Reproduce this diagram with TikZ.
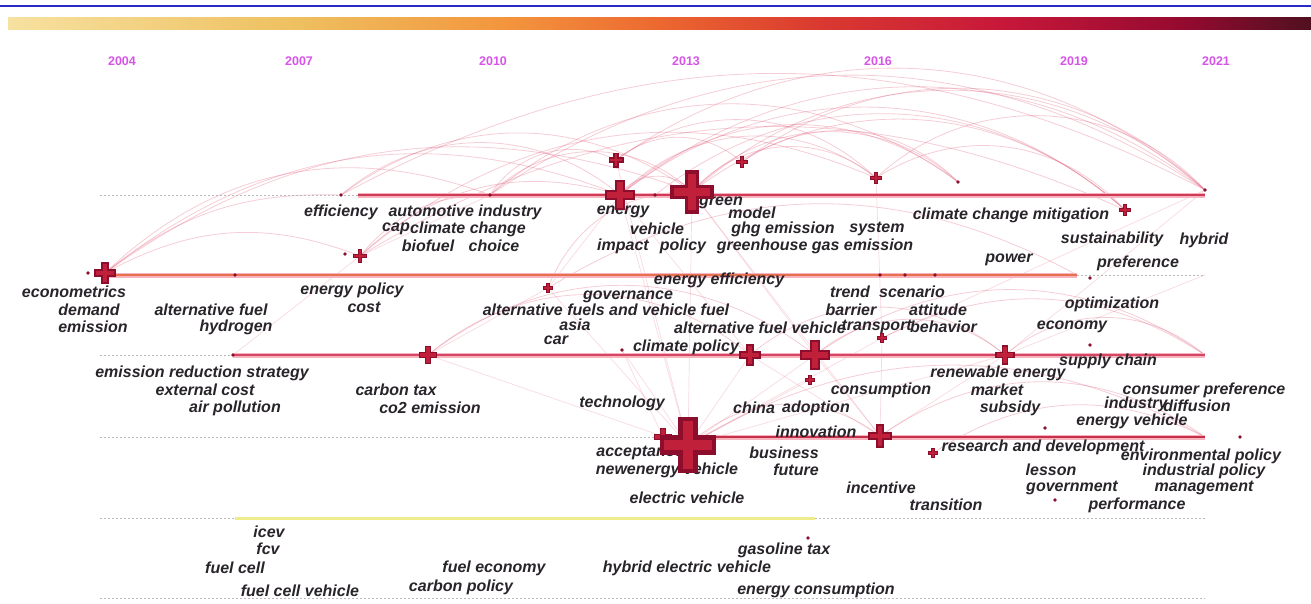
\documentclass[tikz,border=0pt]{standalone}
\usepackage{fontspec}
\setmainfont{Liberation Sans}
\usetikzlibrary{calc}
\definecolor{bluerule}{RGB}{40,40,200}
\definecolor{yb0}{RGB}{247,225,160}
\definecolor{yb1}{RGB}{238,192,96}
\definecolor{yb2}{RGB}{243,150,62}
\definecolor{yb3}{RGB}{236,104,48}
\definecolor{yb4}{RGB}{218,58,48}
\definecolor{yb5}{RGB}{200,24,58}
\definecolor{yb6}{RGB}{150,10,48}
\definecolor{yb7}{RGB}{80,16,32}
\definecolor{yearcol}{RGB}{214,84,232}
\definecolor{kwtext}{RGB}{40,36,42}
\definecolor{crossfill}{RGB}{140,14,44}
\definecolor{crosscore}{RGB}{192,32,58}
\definecolor{rowA}{RGB}{208,58,88}
\definecolor{rowB}{RGB}{232,112,78}
\definecolor{rowC}{RGB}{214,70,100}
\definecolor{rowD}{RGB}{200,48,74}
\definecolor{rowE}{RGB}{238,236,140}
\definecolor{band}{RGB}{246,180,190}
\definecolor{arccol}{RGB}{225,90,120}
\pgfdeclarehorizontalshading{yearbar}{100bp}{color(0bp)=(yb0); color(25bp)=(yb0); color(36bp)=(yb1); color(44bp)=(yb2); color(50bp)=(yb3); color(56bp)=(yb4); color(63bp)=(yb5); color(70bp)=(yb6); color(75bp)=(yb7); color(100bp)=(yb7)}
\newcommand\kwx[4]{%
  \coordinate (#1) at (#2,#3);
  \fill[crossfill] ($(#1)+(-0.17*#4,-0.5*#4)$) rectangle ($(#1)+(0.17*#4,0.5*#4)$);
  \fill[crossfill] ($(#1)+(-0.5*#4,-0.17*#4)$) rectangle ($(#1)+(0.5*#4,0.17*#4)$);
  \fill[crosscore] ($(#1)+(-0.09*#4,-0.42*#4)$) rectangle ($(#1)+(0.09*#4,0.42*#4)$);
  \fill[crosscore] ($(#1)+(-0.42*#4,-0.09*#4)$) rectangle ($(#1)+(0.42*#4,0.09*#4)$);
}
\newcommand\kwdot[3]{\coordinate (#1) at (#2,#3); \fill[crossfill] (#1) circle (1.8);}
\tikzset{
  kw/.style={font=\fontsize{16}{16}\selectfont\bfseries\itshape, text=kwtext, inner sep=0pt},
  yr/.style={font=\fontsize{12.5}{12.5}\selectfont\bfseries, text=yearcol, inner sep=0pt},
  dashrow/.style={draw=gray!55, line width=1pt, dash pattern=on 2pt off 2pt},
  arc/.style={draw=arccol, line width=0.8pt, opacity=0.3},
  fan/.style={draw=arccol, line width=0.7pt, opacity=0.22},
}
\begin{document}
\begin{tikzpicture}[x=1pt,y=-1pt]
\useasboundingbox (0,0) rectangle (1311,603);
\fill[white] (0,0) rectangle (1311,603);
% top rule and year bar
\coordinate (ruleL) at (0,6); \coordinate (ruleR) at (1311,6);
\draw[bluerule, line width=1.3pt] (ruleL) -- (ruleR);
\path[shading=yearbar] (8,17) rectangle (1311,29);
% years
\node[yr] (y2004) at (122,61) {2004};
\node[yr] (y2007) at (299,61) {2007};
\node[yr] (y2010) at (493,61) {2010};
\node[yr] (y2013) at (686,61) {2013};
\node[yr] (y2016) at (878,61) {2016};
\node[yr] (y2019) at (1074,61) {2019};
\node[yr] (y2021) at (1216,61) {2021};
% row anchor coordinates
\coordinate (r1s) at (100,195); \coordinate (r1m) at (358,195); \coordinate (r1e) at (1205,195);
\coordinate (r2s) at (105,275); \coordinate (r2m) at (1077,275); \coordinate (r2e) at (1205,275);
\coordinate (r3s) at (100,355); \coordinate (r3m) at (233,355); \coordinate (r3e) at (1205,355);
\coordinate (r4s) at (100,437); \coordinate (r4m) at (688,437); \coordinate (r4e) at (1205,437);
\coordinate (r5s) at (100,518); \coordinate (r5m) at (235,518); \coordinate (r5n) at (815,518); \coordinate (r5e) at (1205,518);
\coordinate (r6s) at (100,598); \coordinate (r6e) at (1205,598);
% node coordinates (declared before arcs)
\coordinate (c_energy) at (620,195); \coordinate (c_green) at (692,192);
\coordinate (c_top1) at (616,160); \coordinate (c_top2) at (742,162);
\coordinate (c_top3) at (876,178); \coordinate (c_ccm) at (1125,210);
\coordinate (d1) at (341,195); \coordinate (d2) at (490,195); \coordinate (d3) at (655,195);
\coordinate (d4) at (958,182); \coordinate (d5) at (1205,190);
\coordinate (c_econ) at (105,273); \coordinate (c_ep) at (360,256); \coordinate (c_af) at (548,288);
\coordinate (c_ctax) at (428,355); \coordinate (d_cp) at (622,350);
\coordinate (c_r3a) at (750,355); \coordinate (c_r3b) at (815,355); \coordinate (c_r3c) at (810,380);
\coordinate (c_tr) at (882,338); \coordinate (c_r3d) at (1005,355);
\coordinate (c_ev) at (688,445); \coordinate (c_acc) at (663,437);
\coordinate (c_inn) at (880,436); \coordinate (c_rd) at (933,453);
% arcs (upper region)
\draw[arc] (c_econ) to[bend left=30] (c_energy);
\draw[arc] (c_econ) to[bend left=28] (c_green);
\draw[arc] (c_econ) to[bend left=32] (d2);
\draw[arc] (c_econ) to[bend left=20] (d1);
\draw[arc] (d1) to[bend left=40] (c_energy);
\draw[arc] (d1) to[bend left=36] (c_green);
\draw[arc] (d1) to[bend left=28] (d5);
\draw[arc] (c_ep) to[bend left=30] (c_energy);
\draw[arc] (c_ep) to[bend left=25] (d2);
\draw[arc] (c_ep) to[bend left=28] (c_ccm);
\draw[arc] (c_ep) to[bend left=32] (c_top3);
\draw[arc] (d2) to[bend left=45] (c_green);
\draw[arc] (d2) to[bend left=34] (d5);
\draw[arc] (d2) to[bend left=38] (d4);
\draw[arc] (d2) to[bend left=42] (c_top1);
\draw[arc] (c_energy) to[bend left=55] (c_green);
\draw[arc] (c_energy) to[bend left=42] (c_top3);
\draw[arc] (c_energy) to[bend left=38] (d5);
\draw[arc] (c_energy) to[bend left=40] (d4);
\draw[arc] (c_energy) to[bend left=40] (c_ccm);
\draw[arc] (c_green) to[bend left=40] (c_ccm);
\draw[arc] (c_green) to[bend left=42] (d5);
\draw[arc] (c_green) to[bend left=45] (c_top3);
\draw[arc] (c_green) to[bend left=45] (d4);
\draw[arc] (c_top1) to[bend left=40] (c_top2);
\draw[arc] (c_top1) to[bend left=38] (d5);
\draw[arc] (c_top1) to[bend left=40] (c_top3);
\draw[arc] (c_top2) to[bend left=40] (d4);
\draw[arc] (c_top2) to[bend left=40] (d5);
\draw[arc] (c_top3) to[bend left=40] (c_ccm);
\draw[arc] (c_top3) to[bend left=45] (d5);
\draw[arc] (d3) to[bend left=40] (c_ccm);
\draw[arc] (c_econ) to[bend left=25] (c_ep);
\draw[arc] (c_af) to[bend left=30] (r2m);
\draw[arc] (c_af) to[bend left=35] (c_green);
% arcs (lower rows)
\draw[arc] (c_ctax) to[bend left=40] (c_r3a);
\draw[arc] (c_ctax) to[bend left=38] (c_r3b);
\draw[arc] (c_r3a) to[bend left=40] (c_r3d);
\draw[arc] (c_r3b) to[bend left=40] (c_r3d);
\draw[arc] (c_r3b) to[bend left=35] (r3e);
\draw[arc] (c_r3d) to[bend left=40] (r3e);
\draw[arc] (c_tr) to[bend left=30] (r3e);
\draw[arc] (c_ev) to[bend left=40] (c_inn);
\draw[arc] (c_inn) to[bend left=35] (r4e);
\draw[arc] (c_ev) to[bend left=30] (r4e);
\draw[arc] (c_rd) to[bend left=30] (r4e);
% straight fan lines
\draw[fan] (c_ev) -- (c_r3a);
\draw[fan] (c_ev) -- (c_r3b);
\draw[fan] (c_ev) -- (c_af);
\draw[fan] (c_ev) -- (c_ctax);
\draw[fan] (c_ev) -- (d_cp);
\draw[fan] (c_ev) -- (c_tr);
\draw[fan] (c_ev) -- (c_energy);
\draw[fan] (c_ev) -- (c_green);
\draw[fan] (c_ev) -- (c_r3d);
\draw[fan] (c_ev) -- (c_top1);
\draw[fan] (c_ev) -- (c_r3c);
\draw[fan] (c_acc) -- (d_cp);
\draw[fan] (c_inn) -- (c_r3b);
\draw[fan] (c_inn) -- (c_tr);
\draw[fan] (c_inn) -- (c_r3d);
\draw[fan] (c_inn) -- (c_green);
\draw[fan] (c_inn) -- (c_r3a);
\draw[fan] (c_r3b) -- (c_green);
\draw[fan] (c_r3a) -- (c_energy);
\draw[fan] (c_ctax) -- (c_af);
\draw[fan] (c_af) -- (c_energy);
\draw[fan] (r3m) -- (c_ep);
\draw[fan] (c_ep) -- (d2);
\draw[fan] (c_r3d) -- (d5);
\draw[fan] (c_r3d) -- (r2e);
\draw[fan] (c_tr) -- (c_top3);
\draw[fan] (c_tr) -- (d5);
% timeline rows
\draw[dashrow] (r1s) -- (r1m);
\draw[band, line width=5pt] (r1m) -- (r1e);
\draw[rowA, line width=2.2pt] (r1m) -- (r1e);
\draw[band, line width=5pt] (r2s) -- (r2m);
\draw[rowB, line width=2.2pt] (r2s) -- (r2m);
\draw[dashrow] (r2m) -- (r2e);
\draw[dashrow] (r3s) -- (r3m);
\draw[band, line width=5pt] (r3m) -- (r3e);
\draw[rowC, line width=2.2pt] (r3m) -- (r3e);
\draw[dashrow] (r4s) -- (r4m);
\draw[band, line width=5pt] (r4m) -- (r4e);
\draw[rowD, line width=2.2pt] (r4m) -- (r4e);
\draw[dashrow] (r5s) -- (r5m);
\draw[rowE, line width=3pt] (r5m) -- (r5n);
\draw[dashrow] (r5n) -- (r5e);
\draw[dashrow] (r6s) -- (r6e);
% labels row 1
\node[kw] (t1) at (341,212) {efficiency};
\node[kw] (t2) at (465,212) {automotive industry};
\node[kw, anchor=east] (t3) at (410,229) {cap};
\node[kw, anchor=west] (t4) at (410,229) {climate change};
\node[kw] (t5) at (428,246) {biofuel};
\node[kw] (t6) at (494,246) {choice};
\node[kw] (t7) at (623,212) {energy};
\node[kw] (t8) at (657,229) {vehicle};
\node[kw] (t9) at (623,246) {impact};
\node[kw] (t10) at (683,246) {policy};
\node[kw] (t11) at (721,203) {green};
\node[kw] (t12) at (752,213) {model};
\node[kw] (t13) at (783,229) {ghg emission};
\node[kw] (t14) at (815,246) {greenhouse gas emission};
\node[kw] (t15) at (877,229) {system};
\node[kw] (t16) at (1011,215) {climate change mitigation};
\node[kw] (t17) at (1112,239) {sustainability};
\node[kw] (t18) at (1204,240) {hybrid};
\node[kw] (t19) at (1009,260) {power};
\node[kw] (t20) at (1138,263) {preference};
% labels row 2
\node[kw] (t21) at (74,292) {econometrics};
\node[kw] (t22) at (89,310) {demand};
\node[kw] (t23) at (93,327) {emission};
\node[kw] (t24) at (211,310) {alternative fuel};
\node[kw] (t25) at (236,327) {hydrogen};
\node[kw] (t26) at (352,290) {energy policy};
\node[kw] (t27) at (364,307) {cost};
\node[kw] (t28) at (719,280) {energy efficiency};
\node[kw] (t29) at (628,297) {governance};
\node[kw] (t30) at (606,310) {alternative fuels and vehicle fuel};
\node[kw] (t31) at (575,325) {asia};
\node[kw] (t32) at (556,340) {car};
\node[kw] (t33) at (760,328) {alternative fuel vehicle};
\node[kw] (t34) at (686,347) {climate policy};
\node[kw] (t35) at (850,292) {trend};
\node[kw] (t36) at (912,292) {scenario};
\node[kw] (t37) at (851,310) {barrier};
\node[kw] (t38) at (938,310) {attitude};
\node[kw, anchor=east] (t39) at (912,327) {transport};
\node[kw, anchor=west] (t40) at (910,327) {behavior};
\node[kw] (t41) at (1112,304) {optimization};
\node[kw] (t42) at (1072,327) {economy};
% labels row 3
\node[kw] (t43) at (202,373) {emission reduction strategy};
\node[kw] (t44) at (205,390) {external cost};
\node[kw] (t45) at (235,408) {air pollution};
\node[kw] (t46) at (396,390) {carbon tax};
\node[kw] (t47) at (430,408) {co2 emission};
\node[kw] (t48) at (622,403) {technology};
\node[kw] (t49) at (881,390) {consumption};
\node[kw] (t50) at (754,408) {china};
\node[kw] (t51) at (816,408) {adoption};
\node[kw] (t52) at (998,373) {renewable energy};
\node[kw] (t53) at (997,390) {market};
\node[kw] (t54) at (1010,408) {subsidy};
\node[kw] (t55) at (1108,361) {supply chain};
\node[kw] (t56) at (1204,390) {consumer preference};
\node[kw] (t57) at (1136,404) {industry};
\node[kw] (t58) at (1197,406) {diffusion};
\node[kw] (t59) at (1132,421) {energy vehicle};
% labels row 4
\node[kw] (t60) at (816,432) {innovation};
\node[kw] (t61) at (640,453) {acceptance};
\node[kw] (t62) at (667,470) {newenergy vehicle};
\node[kw] (t63) at (687,498) {electric vehicle};
\node[kw] (t64) at (784,453) {business};
\node[kw] (t65) at (796,470) {future};
\node[kw] (t66) at (881,488) {incentive};
\node[kw] (t67) at (946,505) {transition};
\node[kw] (t68) at (1043,447) {research and development};
\node[kw] (t69) at (1201,456) {environmental policy};
\node[kw] (t70) at (1051,470) {lesson};
\node[kw] (t71) at (1204,471) {industrial policy};
\node[kw] (t72) at (1072,488) {government};
\node[kw] (t73) at (1204,488) {management};
\node[kw] (t74) at (1137,505) {performance};
% labels row 5
\node[kw] (t75) at (269,532) {icev};
\node[kw] (t76) at (268,549) {fcv};
\node[kw] (t77) at (235,568) {fuel cell};
\node[kw] (t78) at (300,591) {fuel cell vehicle};
\node[kw] (t79) at (494,568) {fuel economy};
\node[kw] (t80) at (461,587) {carbon policy};
\node[kw] (t81) at (784,550) {gasoline tax};
\node[kw] (t82) at (687,568) {hybrid electric vehicle};
\node[kw] (t83) at (816,590) {energy consumption};
% crosses and dots
\kwx{x_energy}{620}{195}{30}
\kwx{x_green}{692}{192}{44}
\kwx{x_top1}{616}{160}{15}
\kwx{x_top2}{742}{162}{12}
\kwx{x_top3}{876}{178}{12}
\kwx{x_ccm}{1125}{210}{12}
\kwdot{p1}{341}{195}\kwdot{p2}{490}{195}\kwdot{p3}{655}{195}
\kwdot{p4}{958}{182}\kwdot{p5}{1205}{190}
\kwx{x_econ}{105}{273}{22}
\kwdot{p6}{88}{273}
\kwx{x_ep}{360}{256}{14}
\kwdot{p7}{345}{254}
\kwx{x_af}{548}{288}{10}
\kwdot{p8}{235}{275}\kwdot{p9}{880}{275}\kwdot{p10}{905}{275}\kwdot{p11}{935}{275}
\kwdot{p12}{1090}{278}
\kwdot{p13}{233}{355}
\kwx{x_ctax}{428}{355}{18}
\kwdot{p14}{622}{350}
\kwx{x_r3a}{750}{355}{22}
\kwx{x_r3b}{815}{355}{30}
\kwx{x_r3c}{810}{380}{10}
\kwx{x_tr}{882}{338}{10}
\kwx{x_r3d}{1005}{355}{20}
\kwdot{p15}{1090}{345}
\kwx{x_acc}{663}{437}{18}
\kwx{x_ev}{688}{445}{56}
\kwx{x_inn}{880}{436}{24}
\kwx{x_rd}{933}{453}{10}
\kwdot{p16}{1045}{428}\kwdot{p17}{1240}{437}\kwdot{p18}{1055}{500}
\kwdot{p19}{808}{538}
\end{tikzpicture}
\end{document}
